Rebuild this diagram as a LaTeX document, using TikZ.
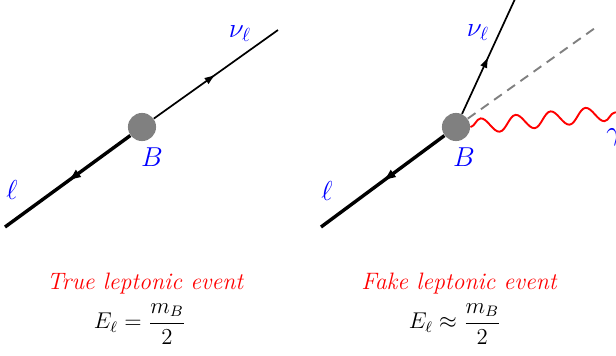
\documentclass[tikz,border=0pt]{standalone}
\usepackage{amsmath,amssymb}
\usetikzlibrary{arrows.meta, decorations.markings, decorations.pathmorphing}

\begin{document}
\begin{tikzpicture}[
              x=0.0185cm, y=-0.0185cm,
              font=\large,
              blob/.style={circle, fill=gray, inner sep=0pt, minimum size=0.52cm},
              lepton/.style={line width=1.8pt, postaction={decorate}, decoration={markings, mark=at position 0.5 with {\arrow{Latex[length=7pt, width=5pt]}}}},
              nu/.style={line width=0.9pt, postaction={decorate}, decoration={markings, mark=at position 0.5 with {\arrow{Latex[length=6pt, width=4pt]}}}},
              ghost/.style={gray, line width=1pt, dash pattern=on 5pt off 3.5pt},
              photon/.style={red, line width=1pt, decorate, decoration={snake, segment length=0.65cm, amplitude=0.14cm}},
              lbl/.style={blue, font=\Large},
              title/.style={red, font=\fontsize{12.5}{15}\selectfont\itshape},
              formula/.style={font=\fontsize{11.5}{14}\selectfont}
            ]
              \useasboundingbox (0,0) rectangle (616,355);

              % true event
              \node[blob] (bA) at (142,127) {};
              \coordinate (lA) at (5,227);
              \coordinate (nA) at (278,30);
              \draw[lepton] (bA) -- (lA);
              \draw[nu] (bA) -- (nA);
              \node[lbl] (nuA) at (240,34) {$\nu_\ell$};
              \node[lbl] (bAl) at (152,157) {$B$};
              \node[lbl] (lAl) at (12,190) {$\ell$};

              % fake event
              \node[blob] (bB) at (456,127) {};
              \coordinate (lB) at (321,227);
              \coordinate (nB) at (515,-1);
              \coordinate (dB) at (595,28);
              \coordinate (gB) at (630,111);
              \draw[lepton] (bB) -- (lB);
              \draw[nu] (bB) -- (nB);
              \draw[ghost] (bB) -- (dB);
              \draw[photon] (bB.east) -- (gB);
              \node[lbl] (nuB) at (478,33) {$\nu_\ell$};
              \node[lbl] (bBl) at (464,157) {$B$};
              \node[lbl] (lBl) at (327,191) {$\ell$};
              \node[lbl] (gBl) at (614,137) {$\gamma$};

              % captions
              \node[title] (tA) at (145,284) {True leptonic event};
              \node[formula] (eA) at (140,324) {$\displaystyle E_\ell = \frac{m_B}{2}$};
              \node[title] (tB) at (459,284) {Fake leptonic event};
              \node[formula] (eB) at (455,324) {$\displaystyle E_\ell \approx \frac{m_B}{2}$};
            \end{tikzpicture}
\end{document}
